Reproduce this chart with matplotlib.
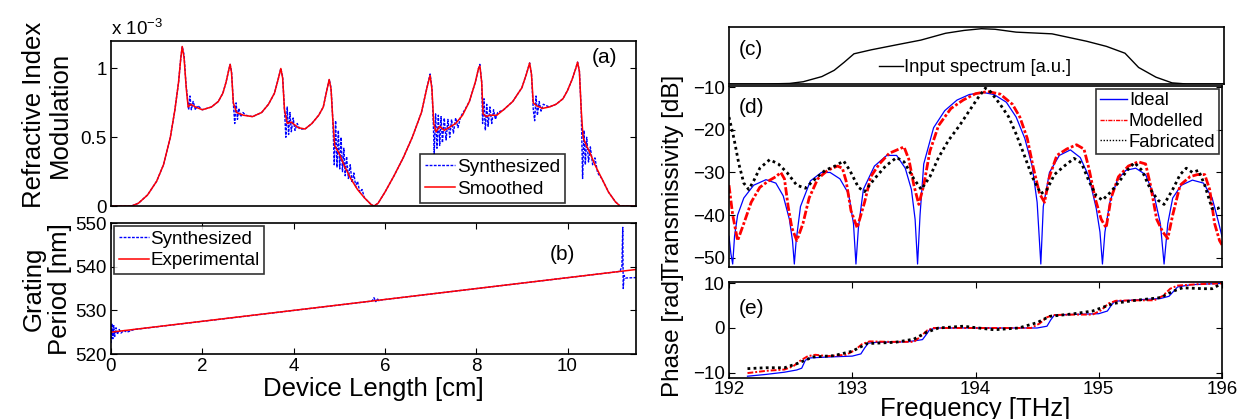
import matplotlib
matplotlib.use('Agg')
import matplotlib.pyplot as plt
from matplotlib.lines import Line2D

plt.rcParams['font.family'] = 'Liberation Sans'
plt.rcParams['mathtext.default'] = 'regular'

# (a) index modulation along the grating [x1e-3], position in cm
len_smooth = [0.0, 0.45, 0.6, 0.8, 1.0, 1.15, 1.3, 1.4, 1.48, 1.53, 1.56, 1.6, 1.65, 1.69, 1.75, 1.85,
              2.0, 2.2, 2.35, 2.45, 2.52, 2.58, 2.61, 2.64, 2.68, 2.75, 2.9, 3.1, 3.3, 3.45, 3.58,
              3.66, 3.72, 3.76, 3.8, 3.86, 3.95, 4.1, 4.25, 4.4, 4.55, 4.65, 4.72, 4.78, 4.82,
              4.86, 4.9, 5.0, 5.1, 5.25, 5.4, 5.55, 5.7, 5.76, 5.85, 6.0, 6.2, 6.4, 6.6, 6.8,
              6.92, 6.99, 7.03, 7.07, 7.12, 7.2, 7.3, 7.4, 7.55, 7.7, 7.85, 7.98, 8.05, 8.08,
              8.12, 8.15, 8.22, 8.3, 8.45, 8.6, 8.8, 9.0, 9.1, 9.17, 9.21, 9.25, 9.32, 9.45,
              9.6, 9.75, 9.9, 10.0, 10.1, 10.18, 10.22, 10.26, 10.3, 10.34, 10.4, 10.5, 10.6,
              10.75, 10.9, 11.05, 11.15, 11.5]
mod_smooth = [0.0, 0.0, 0.02, 0.08, 0.18, 0.3, 0.5, 0.7, 0.9, 1.08, 1.16, 1.08, 0.85, 0.72, 0.74, 0.72,
              0.7, 0.72, 0.76, 0.82, 0.9, 0.99, 1.03, 0.97, 0.75, 0.68, 0.66, 0.65, 0.68, 0.74, 0.82,
              0.92, 1.0, 0.93, 0.7, 0.6, 0.61, 0.57, 0.56, 0.6, 0.66, 0.72, 0.83, 0.92, 0.85,
              0.62, 0.44, 0.38, 0.3, 0.2, 0.12, 0.06, 0.01, 0.0, 0.02, 0.1, 0.22, 0.35, 0.5, 0.68,
              0.86, 0.95, 0.85, 0.6, 0.54, 0.58, 0.55, 0.57, 0.6, 0.66, 0.76, 0.9, 1.0, 1.02,
              0.9, 0.67, 0.65, 0.66, 0.66, 0.7, 0.76, 0.86, 0.96, 1.04, 0.96, 0.75, 0.73, 0.71,
              0.72, 0.74, 0.78, 0.84, 0.92, 1.0, 1.046, 0.98, 0.7, 0.5, 0.45, 0.38, 0.3,
              0.2, 0.1, 0.03, 0.0, 0.0]

len_synth = [0.0, 0.45, 0.6, 0.8, 1.0, 1.15, 1.3, 1.4, 1.48, 1.53, 1.56, 1.6, 1.64,
             1.67, 1.7, 1.73, 1.76, 1.8, 1.85, 1.9, 2.0, 2.2, 2.35, 2.45, 2.52, 2.58, 2.61, 2.64,
             2.68, 2.71, 2.74, 2.77, 2.8, 2.84, 2.89, 2.95, 3.1, 3.3, 3.45, 3.58, 3.66, 3.72, 3.76,
             3.8, 3.83, 3.86, 3.89, 3.92, 3.95, 3.99, 4.03, 4.08, 4.13, 4.25, 4.4, 4.55, 4.65,
             4.72, 4.78, 4.82, 4.86, 4.89, 4.92, 4.95, 4.98, 5.01, 5.04, 5.07, 5.1, 5.13, 5.16,
             5.2, 5.24, 5.28, 5.32, 5.36, 5.4, 5.45, 5.5, 5.55, 5.7, 5.76, 5.85, 6.0, 6.2, 6.4,
             6.6, 6.8, 6.92, 6.99, 7.03, 7.06, 7.08, 7.11, 7.14, 7.17, 7.2, 7.23, 7.26, 7.3,
             7.34, 7.38, 7.42, 7.46, 7.5, 7.55, 7.6, 7.66, 7.75, 7.85, 7.98, 8.05, 8.08, 8.12,
             8.14, 8.17, 8.2, 8.23, 8.26, 8.3, 8.34, 8.38, 8.42, 8.47, 8.6, 8.8, 9.0, 9.1, 9.17,
             9.21, 9.25, 9.28, 9.31, 9.34, 9.38, 9.42, 9.47, 9.6, 9.75, 9.9, 10.0, 10.1, 10.18,
             10.22, 10.26, 10.3, 10.33, 10.36, 10.39, 10.42, 10.46, 10.5, 10.55, 10.6, 10.66,
             10.75, 10.9, 11.05, 11.15, 11.5]
mod_synth = [0.0, 0.0, 0.02, 0.08, 0.18, 0.3, 0.5, 0.7, 0.9, 1.08, 1.16, 1.1, 0.9,
             0.8, 0.7, 0.8, 0.7, 0.76, 0.7, 0.73, 0.7, 0.72, 0.76, 0.82, 0.9, 0.99, 1.03, 0.98,
             0.75, 0.6, 0.75, 0.63, 0.71, 0.65, 0.68, 0.66, 0.65, 0.68, 0.74, 0.82, 0.92, 1.0, 0.94,
             0.7, 0.5, 0.72, 0.52, 0.68, 0.54, 0.64, 0.55, 0.6, 0.56, 0.56, 0.6, 0.66, 0.72,
             0.83, 0.92, 0.86, 0.62, 0.3, 0.62, 0.28, 0.55, 0.27, 0.5, 0.25, 0.42, 0.22, 0.36,
             0.2, 0.3, 0.17, 0.24, 0.14, 0.18, 0.1, 0.12, 0.06, 0.01, 0.0, 0.02, 0.1, 0.22, 0.35,
             0.5, 0.68, 0.86, 0.96, 0.86, 0.6, 0.38, 0.67, 0.42, 0.66, 0.44, 0.65, 0.46, 0.64,
             0.48, 0.63, 0.5, 0.63, 0.53, 0.64, 0.57, 0.65, 0.7, 0.76, 0.9, 1.0, 1.03, 0.9,
             0.6, 0.78, 0.55, 0.74, 0.58, 0.72, 0.6, 0.7, 0.63, 0.68, 0.7, 0.76, 0.86, 0.96, 1.04,
             0.96, 0.7, 0.62, 0.8, 0.66, 0.76, 0.69, 0.74, 0.72, 0.74, 0.78, 0.84, 0.92, 1.0,
             1.046, 0.98, 0.7, 0.2, 0.55, 0.3, 0.5, 0.32, 0.43, 0.3, 0.35, 0.24,
             0.2, 0.1, 0.03, 0.0, 0.0]

# (b) grating period [nm]
len_exp = [0.0, 11.5]
period_exp = [525.0, 539.35]
len_syn_b = [0.0, 0.02, 0.04, 0.06, 0.08, 0.11, 0.14, 0.18, 0.22, 0.28, 0.35, 0.5,
             5.7, 5.73, 5.76, 5.8, 5.83, 5.87, 5.9, 11.1, 11.15, 11.19, 11.21, 11.22, 11.24,
             11.27, 11.5]
period_syn_b = [522.5, 527.0, 523.5, 526.5, 524.0, 526.0, 524.5, 525.6, 524.8, 525.4, 525.0, 525.6,
                532.1, 532.3, 532.9, 532.0, 532.7, 532.2, 532.35, 538.85, 539.0, 540.0, 549.0, 535.0,
                538.0, 537.4, 537.5]

# (c) input spectrum [a.u.]
freq_in = [192.0, 192.3, 192.49, 192.6, 192.75, 192.85, 192.93, 193.01, 193.15, 193.36, 193.55,
           193.75, 193.9, 194.04, 194.15, 194.32, 194.61, 194.89, 195.05, 195.2, 195.31, 195.45,
           195.58, 195.7, 196.0]
spec_in = [0.0, 0.0, 0.01, 0.04, 0.13, 0.24, 0.38, 0.53, 0.6, 0.69, 0.77, 0.89, 0.94, 0.97, 0.96,
           0.91, 0.88, 0.75, 0.66, 0.54, 0.29, 0.12, 0.02, 0.0, 0.0]

# (d) transmissivity [dB]
freq_ideal = [192.0, 192.015, 192.03, 192.045, 192.07, 192.12, 192.2, 192.3, 192.38, 192.44, 192.49,
              192.515, 192.53, 192.545, 192.58, 192.66, 192.75, 192.82, 192.9, 192.97, 193.01,
              193.03, 193.05, 193.09, 193.18, 193.28, 193.36, 193.43, 193.48, 193.51, 193.53,
              193.55, 193.58, 193.66, 193.75, 193.85, 193.95, 194.06, 194.15, 194.25, 194.33,
              194.4, 194.46, 194.5, 194.53, 194.55, 194.6, 194.68, 194.77, 194.85, 194.92, 194.98,
              195.01, 195.03, 195.05, 195.09, 195.15, 195.22, 195.3, 195.38, 195.45, 195.5,
              195.53, 195.56, 195.6, 195.67, 195.76, 195.85, 195.92, 195.97, 196.0]
trans_ideal = [-45, -49, -51.5, -45, -40, -36, -33, -31.7, -32.5, -35.5, -41,
               -46, -51.5, -46, -38, -32, -30, -30, -31.5, -35, -42,
               -51.5, -43, -34, -28.5, -26, -26, -29, -34, -41, -51.5,
               -40, -28, -19.5, -15.5, -13, -11.7, -11.2, -11.7, -13.5, -17,
               -22, -28.5, -37, -51.5, -38, -30, -26, -24.7, -26.5, -31, -38.5,
               -44, -51.5, -44, -37, -31.8, -29.5, -29, -30.5, -35.5, -42,
               -51.5, -42, -36, -33, -31.8, -32.5, -36, -41.5, -45]

freq_model = [192.0, 192.03, 192.07, 192.12, 192.18, 192.25, 192.32, 192.38, 192.42, 192.45, 192.48,
              192.51, 192.55, 192.6, 192.65, 192.72, 192.8, 192.88, 192.92, 192.95, 192.99, 193.04,
              193.1, 193.15, 193.22, 193.3, 193.38, 193.42, 193.46, 193.5, 193.54, 193.58, 193.63,
              193.7, 193.8, 193.9, 194.0, 194.1, 194.2, 194.3, 194.36, 194.42, 194.47, 194.52,
              194.56, 194.6, 194.66, 194.74, 194.82, 194.88, 194.92, 194.97, 195.02, 195.06, 195.1,
              195.16, 195.24, 195.32, 195.38, 195.42, 195.47, 195.52, 195.56, 195.6, 195.66,
              195.74, 195.8, 195.86, 195.9, 195.94, 195.98, 196.0]
trans_model = [-33, -40, -46, -42, -37, -33.5, -32, -31, -30, -31.5, -38,
               -43, -46, -42, -36, -31.5, -29.5, -28.5, -29, -32, -39, -43,
               -37, -31, -28, -25.5, -24.5, -24, -27, -33, -37.5, -33, -25,
               -19, -15, -13, -11.5, -11, -11.6, -14, -17, -22, -29, -35,
               -37, -31, -26, -24.5, -23.5, -24.5, -29, -36, -41, -43, -36,
               -31, -28.5, -27.5, -28, -33, -41, -44, -45.5, -40, -33,
               -31, -30.5, -30.5, -34, -42, -46, -47]

freq_fab = [192.0, 192.04, 192.08, 192.12, 192.16, 192.2, 192.25, 192.33, 192.4, 192.47, 192.55,
            192.62, 192.7, 192.78, 192.86, 192.93, 192.98, 193.05, 193.1, 193.18, 193.27, 193.36,
            193.42, 193.5, 193.56, 193.63, 193.7, 193.78, 193.87, 193.95, 194.02, 194.08, 194.12,
            194.2, 194.27, 194.33, 194.39, 194.46, 194.53, 194.58, 194.64, 194.72, 194.8, 194.86,
            194.92, 194.98, 195.03, 195.1, 195.17, 195.23, 195.29, 195.35, 195.42, 195.48, 195.53,
            195.6, 195.66, 195.71, 195.76, 195.81, 195.86, 195.92, 195.96, 196.0]
trans_fab = [-17, -22, -28, -32.5, -34, -32, -29, -27, -28, -30, -33,
             -33.7, -31.5, -29.5, -28.5, -27.3, -29.5, -33.5, -34.5, -31.5, -28.5, -26.5,
             -27.5, -31.5, -34, -31, -26.5, -22.5, -19, -15.5, -12.5, -10.2, -11,
             -14, -17, -21, -25.5, -31, -35, -34, -30.5, -28.5, -26.7, -27.8,
             -32, -35.5, -36.5, -34.5, -32, -29.5, -27.7, -29.5, -34, -36.5, -37.5,
             -34, -30.5, -29, -30, -29.5, -33, -38.5, -38.5, -38]

# (e) phase [rad]
freq_ph_ideal = [192.15, 192.3, 192.45, 192.55, 192.59, 192.62, 192.66, 192.8, 193.0, 193.07, 193.1,
                 193.13, 193.2, 193.45, 193.57, 193.6, 193.63, 193.7, 194.0, 194.5, 194.58, 194.61,
                 194.64, 194.75, 195.0, 195.07, 195.1, 195.13, 195.25, 195.5, 195.57, 195.6,
                 195.64, 195.75, 196.0]
phase_ideal = [-10.8, -10.4, -9.9, -9.4, -9.0, -7.2, -6.7, -6.5, -6.3, -5.8, -4.5,
               -3.4, -3.2, -3.1, -2.6, -1.5, -0.3, 0.0, 0.0, 0.0, 0.4, 1.8,
               2.9, 3.0, 3.2, 3.8, 5.0, 6.0, 6.2, 6.6, 7.1, 8.0,
               9.2, 9.7, 10.0]
freq_ph_model = [192.15, 192.3, 192.45, 192.52, 192.58, 192.64, 192.7, 192.8, 192.95, 193.02, 193.08,
                 193.14, 193.3, 193.5, 193.55, 193.61, 193.66, 194.0, 194.45, 194.52, 194.58, 194.63,
                 194.8, 194.95, 195.02, 195.08, 195.14, 195.3, 195.45, 195.52, 195.58, 195.64,
                 195.8, 196.0]
phase_model = [-10.1, -9.6, -9.3, -8.6, -7.3, -6.3, -6.0, -6.3, -6.0, -5.0, -3.6,
               -3.0, -3.1, -3.1, -2.0, -0.5, 0.0, 0.0, 0.0, 1.0, 2.4, 2.9,
               3.0, 3.0, 4.0, 5.5, 6.1, 6.2, 6.2, 7.2, 8.8, 9.5,
               9.8, 10.0]
freq_ph_fab = [192.15, 192.3, 192.45, 192.55, 192.68, 192.85, 193.0, 193.12, 193.35, 193.5, 193.6,
               193.7, 193.9, 194.15, 194.35, 194.5, 194.6, 194.8, 194.95, 195.05, 195.12, 195.3,
               195.5, 195.6, 195.68, 195.85, 195.92, 196.0]
phase_fab = [-9.1, -8.9, -8.9, -8.0, -6.5, -6.2, -5.2, -3.5, -3.2, -2.5, -1.0,
             0.0, 0.4, -0.4, 0.0, 1.2, 2.6, 3.2, 3.8, 4.8, 5.5, 6.2,
             6.8, 8.2, 9.0, 8.8, 8.8, 10.0]

W, H = 1242, 419


def box(x0, y0, x1, y1):
    return [x0 / W, 1 - y1 / H, (x1 - x0) / W, (y1 - y0) / H]


def frame(ax):
    ax.tick_params(direction='in', top=True, right=True, labelsize=13.5, length=4, width=0.8, pad=3)
    for s in ax.spines.values():
        s.set_linewidth(1.2)


fig = plt.figure(figsize=(12.42, 4.19), dpi=100)

# ---- (a) refractive index modulation
ax_a = fig.add_axes(box(111, 41, 636, 206))
ax_a.plot(len_synth, [v * 1e-3 for v in mod_synth], color='blue', ls=(0, (2, 1)), lw=1.0, label='Synthesized')
ax_a.plot(len_smooth, [v * 1e-3 for v in mod_smooth], color='red', lw=1.1, label='Smoothed')
ax_a.set_xlim(0, 11.5)
ax_a.set_ylim(0, 1.2e-3)
ax_a.set_xticks([])
ax_a.set_yticks([0, 0.5e-3, 1e-3])
ax_a.set_yticklabels(['0', '0.5', '1'])
frame(ax_a)
ax_a.text(0.94, 0.9, '(a)', transform=ax_a.transAxes, fontsize=15, ha='center', va='center')
fig.text(111 / W, 1 - 29 / H, 'x 10$^{-3}$', fontsize=13.5, ha='left', va='center')
leg = ax_a.legend(loc='upper left', bbox_to_anchor=(420 / W, 1 - 154 / H), bbox_transform=fig.transFigure,
                  fontsize=13.7, frameon=True, fancybox=False, edgecolor='black', handlelength=1.6,
                  handletextpad=0.1, labelspacing=0.25, borderpad=0.25, borderaxespad=0)
leg.get_frame().set_linewidth(1.2)
fig.text(47 / W, 1 - 115 / H, 'Refractive Index\nModulation', rotation=90, fontsize=18.5,
         ha='center', va='center', multialignment='center', linespacing=1.1)

# ---- (b) grating period
ax_b = fig.add_axes(box(111, 223, 636, 354))
ax_b.plot(len_syn_b, period_syn_b, color='blue', ls=(0, (2, 1)), lw=1.0, label='Synthesized')
ax_b.plot(len_exp, period_exp, color='red', lw=1.1, label='Experimental')
ax_b.set_xlim(0, 11.5)
ax_b.set_ylim(520, 550)
ax_b.set_xticks([0, 2, 4, 6, 8, 10])
ax_b.set_yticks([520, 530, 540, 550])
frame(ax_b)
ax_b.text(0.86, 0.76, '(b)', transform=ax_b.transAxes, fontsize=15, ha='center', va='center')
ax_b.set_xlabel('Device Length [cm]', fontsize=18.5, labelpad=1)
leg = ax_b.legend(loc='upper left', fontsize=13.5, frameon=True, fancybox=False, edgecolor='black',
                  handlelength=1.6, handletextpad=0.1, labelspacing=0.25, borderpad=0.25, borderaxespad=0.15)
leg.get_frame().set_linewidth(1.2)
fig.text(47 / W, 1 - 289 / H, 'Grating\nPeriod [nm]', rotation=90, fontsize=18.5,
         ha='center', va='center', multialignment='center', linespacing=1.1)

# ---- (c) input spectrum
ax_c = fig.add_axes(box(729, 27, 1224, 84))
ax_c.plot(freq_in, spec_in, color='black', lw=1.0)
ax_c.set_xlim(192, 196)
ax_c.set_ylim(0, 1.0)
ax_c.set_xticks([])
ax_c.set_yticks([])
for s in ax_c.spines.values():
    s.set_linewidth(1.2)
ax_c.text(0.045, 0.6, '(c)', transform=ax_c.transAxes, fontsize=15, ha='center', va='center')
ax_c.legend([Line2D([0], [0], color='black', lw=1.0)], ['Input spectrum [a.u.]'],
            loc='center', bbox_to_anchor=(975 / W, 1 - 68 / H), bbox_transform=fig.transFigure,
            fontsize=13.2, frameon=False, handlelength=1.3, handletextpad=0.1, borderpad=0)

# ---- (d) transmissivity
ax_d = fig.add_axes(box(729, 86, 1222, 267))
ax_d.plot(freq_ideal, trans_ideal, color='blue', lw=0.9, label='Ideal')
ax_d.plot(freq_model, trans_model, color='red', ls=(0, (3, 0.8, 1, 0.8)), lw=2.0, label='Modelled')
ax_d.plot(freq_fab, trans_fab, color='black', ls=(0, (1, 1.2)), lw=2.0, label='Fabricated')
ax_d.set_xlim(192, 196)
ax_d.set_ylim(-52.2, -9.7)
ax_d.set_xticks([])
ax_d.set_yticks([-50, -40, -30, -20, -10])
frame(ax_d)
ax_d.text(0.045, 0.88, '(d)', transform=ax_d.transAxes, fontsize=15, ha='center', va='center')
ax_d.set_ylabel('Transmissivity [dB]', fontsize=17.5)
ax_d.yaxis.set_label_coords(684 / W, 1 - 176 / H, transform=fig.transFigure)
leg = ax_d.legend(loc='upper right', fontsize=13.2, frameon=True, fancybox=False, edgecolor='black',
                  handlelength=1.5, handletextpad=0.1, labelspacing=0.2, borderpad=0.2, borderaxespad=0.15)
leg.get_frame().set_linewidth(1.2)
for h in leg.get_lines():
    h.set_linewidth(1.0)

# ---- (e) phase
ax_e = fig.add_axes(box(729, 282, 1222, 378))
ax_e.plot(freq_ph_ideal, phase_ideal, color='blue', lw=0.9)
ax_e.plot(freq_ph_model, phase_model, color='red', ls=(0, (3, 1, 1, 1)), lw=1.4)
ax_e.plot(freq_ph_fab, phase_fab, color='black', ls=(0, (1, 1.2)), lw=2.0)
ax_e.set_xlim(192, 196)
ax_e.set_ylim(-11.2, 10.3)
ax_e.set_xticks([192, 193, 194, 195, 196])
ax_e.set_yticks([-10, 0, 10])
frame(ax_e)
ax_e.tick_params(axis='x', pad=2)
ax_e.text(0.045, 0.72, '(e)', transform=ax_e.transAxes, fontsize=15, ha='center', va='center')
ax_e.set_xlabel('Frequency [THz]', fontsize=18.5, labelpad=-0.5)
ax_e.set_ylabel('Phase [rad]', fontsize=17.5)
ax_e.yaxis.set_label_coords(684 / W, 1 - 335 / H, transform=fig.transFigure)

fig.savefig('out.png', dpi=100)
